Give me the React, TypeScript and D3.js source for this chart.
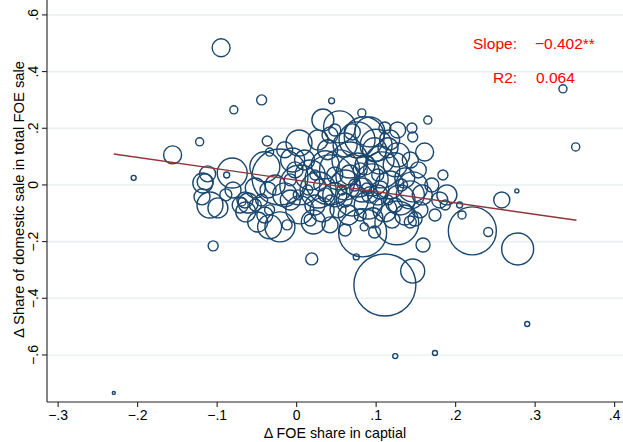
import React from "react";
import * as d3 from "d3";

// Δ FOE share in capital (x), Δ share of domestic sale (y), bubble weight
const foeShareChange = [
  -0.095, -0.079, -0.044, 0.044, -0.122, -0.205, -0.156, -0.23, 0.335, 0.351,
  0.29, 0.124, 0.174, 0.277, 0.111, 0.146, 0.278, 0.221, 0.241, 0.159,
  0.019, 0.075, 0.083, 0.208, 0.126, 0.149, 0.021, 0.258, 0.085, 0.098,
  -0.037, -0.034, 0.033, 0.054, 0.048, 0.082, 0.092, 0.076, 0.145, 0.146,
  0.165, 0.115, 0.105, 0.161, 0.127,
  -0.081, -0.088, -0.115, -0.112, -0.119, -0.109, -0.099, -0.118, -0.065, -0.069,
  -0.061, -0.08, -0.071, -0.064, -0.089, -0.105, -0.049, -0.034, -0.021, -0.012,
  -0.04, -0.005, 0.003,
  -0.021, 0.004, 0.017, 0.027, 0.036, 0.042, 0.048, 0.054, 0.061, 0.067,
  0.07, 0.077, 0.082, 0.086, 0.09, 0.095, 0.098, 0.102, 0.107, 0.111,
  0.117, 0.124, 0.13, 0.136, 0.143, 0.146, 0.153, 0.158, 0.155, 0.18,
  0.189, 0.184, 0.187, 0.174, 0.205, 0.17, -0.008, -0.002, 0.01, 0.023,
  0.032, 0.039, 0.004, -0.015, -0.027, -0.036, -0.044, -0.052, 0.061, 0.07,
  0.117, 0.127, 0.111, 0.052, 0.065, 0.08, 0.096, 0.12, 0.136, 0.143,
  0.029, 0.042, 0.057, 0.073, 0.088, 0.102, 0.115, 0.014, 0.002, 0.023,
  0.036, 0.048, 0.061, 0.08, 0.092, 0.105, 0.124, 0.132, 0.067, -0.008,
  0.017, 0.042, 0.061, -0.034, -0.052, -0.04,
  0.027, 0.042, -0.015, 0.143, 0.085, 0.1,
];
const domesticShareChange = [
  0.484, 0.265, 0.3, 0.297, 0.152, 0.025, 0.106, -0.734, 0.339, 0.134,
  -0.491, -0.604, -0.593, -0.021, -0.353, -0.304, -0.226, -0.162, -0.166, -0.212,
  -0.261, -0.254, -0.169, -0.106, -0.134, -0.12, -0.131, -0.053, -0.148, -0.166,
  0.155, 0.116, 0.229, 0.205, 0.194, 0.254, 0.187, 0.159, 0.201, 0.169,
  0.229, 0.131, 0.088, 0.116, 0.106,
  0.042, 0.035, 0.011, 0.039, -0.042, -0.071, -0.081, 0.007, -0.053, -0.06,
  -0.064, -0.018, -0.071, -0.095, -0.035, -0.215, -0.131, -0.148, -0.148, -0.141,
  0.064, 0.088, 0.148,
  0.028, 0.0, 0.035, -0.018, 0.071, 0.018, -0.035, 0.053, 0.0, 0.088,
  -0.053, 0.035, -0.018, 0.071, -0.071, 0.018, 0.124, -0.035, 0.053, -0.088,
  0.0, 0.071, -0.053, 0.025, -0.035, -0.007, 0.053, -0.035, -0.088, -0.053,
  -0.035, 0.035, -0.071, -0.106, -0.071, 0.0, -0.053, 0.053, 0.088, -0.071,
  -0.088, 0.124, -0.088, -0.035, 0.0, -0.018, -0.053, -0.011, 0.141, 0.187,
  0.159, 0.194, 0.201, -0.088, -0.106, -0.106, -0.116, -0.124, -0.106, -0.131,
  0.0, -0.053, -0.018, 0.0, -0.011, 0.035, -0.053, -0.018, -0.035, 0.035,
  -0.035, 0.035, -0.053, 0.053, -0.035, -0.018, -0.071, 0.0, 0.035, 0.018,
  -0.124, -0.141, -0.159, -0.088, -0.071, -0.106,
  0.159, 0.176, 0.124, 0.088, 0.17, 0.14,
];
const bubbleWeight = [
  8.4, 1.7, 2.6, 0.9, 1.7, 0.65, 8.4, 0.23, 1.7, 1.7,
  0.65, 0.65, 0.65, 0.42, 100, 15, 26.6, 60, 2.1, 5.1,
  3.75, 0.94, 60, 1.7, 50, 5.1, 15, 6.7, 1.7, 3.75,
  2.6, 1.7, 12.6, 26.6, 3.75, 1.7, 23.4, 33.7, 2.6, 2.6,
  1.7, 10.4, 20.4, 8.4, 15,
  23.4, 0.94, 6.7, 6.7, 6.7, 17.6, 10.4, 10.4, 6.7, 1.7,
  10.4, 6.7, 6.7, 10.4, 3.75, 2.6, 10.4, 15, 23.4, 2.6,
  23.4, 15, 17.6,
  81.6, 41.6, 23.4, 33.7, 20.4, 65, 15, 41.6, 23.4, 33.7,
  26.6, 50.4, 15, 10.4, 20.4, 26.6, 15, 10.4, 33.7, 15,
  20.4, 15, 23.4, 10.4, 20.4, 23.4, 6.7, 10.4, 6.7, 6.7,
  10.4, 2.6, 2.6, 3.75, 0.94, 5.1, 10.4, 6.7, 10.4, 10.4,
  15, 10.4, 20.4, 15, 10.4, 6.7, 3.75, 10.4, 15, 6.7,
  10.4, 6.7, 3.75, 6.7, 10.4, 3.75, 10.4, 6.7, 10.4, 3.75,
  3.75, 2.6, 2.6, 3.75, 2.6, 3.75, 2.6, 2.6, 2.6, 2.6,
  5.1, 6.7, 5.1, 5.1, 6.7, 8.4, 5.1, 3.75, 10.4, 3.75,
  3.75, 6.7, 3.75, 2.6, 3.75, 6.7,
  10.4, 6.7, 6.7, 6.7, 41.6, 26.6,
];

const xTicks = [-0.3, -0.2, -0.1, 0, 0.1, 0.2, 0.3, 0.4];
const xTickLabels = ["\u2212.3", "\u2212.2", "\u2212.1", "0", ".1", ".2", ".3", ".4"];
const yTicks = [-0.6, -0.4, -0.2, 0, 0.2, 0.4, 0.6];
const yTickLabels = ["\u2212.6", "\u2212.4", "\u2212.2", "0", ".2", ".4", ".6"];

const fitIntercept = 0.0167;
const fitSlope = -0.402;
const fitRange = [-0.23, 0.352];

const slopeLabel = "Slope:";
const slopeValue = "\u22120.402**";
const r2Label = "R2:";
const r2Value = "0.064";
const xTitle = "\u0394 FOE share in captial";
const yTitle = "\u0394 Share of domestic sale in total FOE sale";

const W = 623;
const H = 442;
const left = 47;
const right = 621;
const top = 3;
const bottom = 402;

export default function App() {
  const x = d3.scaleLinear().domain([-0.314, 0.408]).range([left, right]);
  const y = d3.scaleLinear().domain([-0.766, 0.642]).range([bottom, top]);
  const r = d3.scaleSqrt().domain([0, 100]).range([0, 31]);

  const pts = foeShareChange.map((v, i) => ({
    x: v,
    y: domesticShareChange[i],
    w: bubbleWeight[i],
  }));

  const line = d3
    .line<number>()
    .x((d) => x(d))
    .y((d) => y(fitIntercept + fitSlope * d));

  const font = "'Liberation Sans', Arial, Helvetica, sans-serif";
  const axisColor = "#222";

  return (
    <svg
      width={W}
      height={H}
      style={{ position: "absolute", left: 0, top: 0, background: "#fff" }}
      fontFamily={font}
    >
      {yTicks.map((t) => (
        <line
          key={"g" + t}
          x1={left}
          x2={W}
          y1={y(t)}
          y2={y(t)}
          stroke="#eaf0f2"
          strokeWidth={1.6}
        />
      ))}
      {pts.map((p, i) => (
        <circle
          key={i}
          cx={x(p.x)}
          cy={y(p.y)}
          r={r(p.w)}
          fill="none"
          stroke="#1a476f"
          strokeWidth={1.4}
        />
      ))}
      <path
        d={line(fitRange) || ""}
        fill="none"
        stroke="#90353b"
        strokeWidth={1.4}
      />
      <line x1={left} x2={left} y1={0} y2={bottom} stroke={axisColor} strokeWidth={1.1} />
      <line x1={left} x2={W} y1={bottom} y2={bottom} stroke={axisColor} strokeWidth={1.1} />
      {yTicks.map((t, i) => (
        <g key={"yt" + t}>
          <line x1={left - 5} x2={left} y1={y(t)} y2={y(t)} stroke={axisColor} strokeWidth={1.1} />
          <text
            transform={`translate(${left - 9},${y(t)}) rotate(-90)`}
            textAnchor="middle"
            fontSize={14}
            fill="#000"
          >
            {yTickLabels[i]}
          </text>
        </g>
      ))}
      {xTicks.map((t, i) => (
        <g key={"xt" + t}>
          <line x1={x(t)} x2={x(t)} y1={bottom} y2={bottom + 5} stroke={axisColor} strokeWidth={1.1} />
          <text x={x(t)} y={bottom + 18} textAnchor="middle" fontSize={14} fill="#000">
            {xTickLabels[i]}
          </text>
        </g>
      ))}
      <text
        x={(left + W) / 2}
        y={H - 4}
        textAnchor="middle"
        fontSize={14.3}
        fill="#000"
      >
        {xTitle}
      </text>
      <text
        transform={`translate(24,${(top + bottom) / 2 - 3}) rotate(-90)`}
        textAnchor="middle"
        fontSize={14.8}
        fill="#000"
      >
        {yTitle}
      </text>
      <text x={473} y={49} fontSize={15.5} fill="#ff0000">{slopeLabel}</text>
      <text x={535} y={49} fontSize={15.5} fill="#ff0000">{slopeValue}</text>
      <text x={493} y={83} fontSize={15.5} fill="#ff0000">{r2Label}</text>
      <text x={536} y={83} fontSize={15.5} fill="#ff0000">{r2Value}</text>
    </svg>
  );
}
